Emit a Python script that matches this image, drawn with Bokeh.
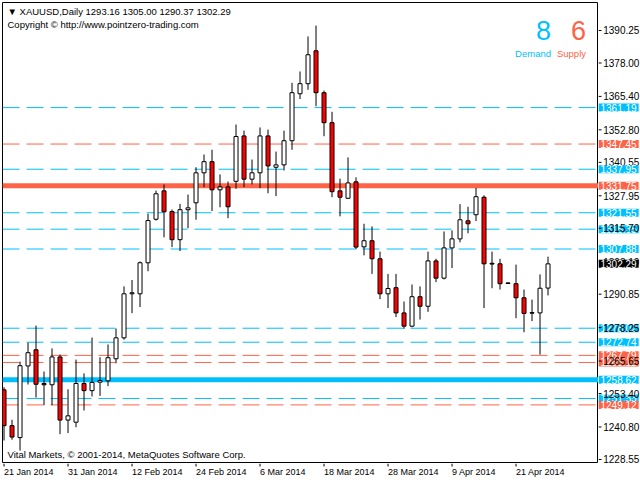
from bokeh.plotting import figure
from bokeh.layouts import row, column
from bokeh.models import Span, Label, Range1d, ColumnDataSource
from bokeh.core.properties import value
from bokeh.embed import file_html
from bokeh.resources import INLINE

# ---------------- data ----------------
header = "\u25BC XAUUSD,Daily  1293.16 1305.00 1290.37 1302.29"
copyright_text = "Copyright \u00A9 http://www.pointzero-trading.com"
footer_text = "Vital Markets, \u00A9 2001-2014, MetaQuotes Software Corp."

opens = [1254.8, 1241.3, 1236.8, 1263.8, 1269.9, 1257.2, 1256.7, 1267.2, 1243.4, 1242.6,
         1257.2, 1254.5, 1257.7, 1258.2, 1266.5, 1274.4, 1291.0, 1291.0, 1302.7, 1319.1,
         1329.8, 1322.0, 1311.4, 1322.7, 1325.3, 1336.6, 1340.8, 1330.2, 1331.3, 1333.4,
         1350.5, 1334.2, 1336.6, 1350.5, 1338.7, 1339.6, 1348.7, 1366.4, 1370.2, 1382.6,
         1366.8, 1355.5, 1329.8, 1327.0, 1333.2, 1308.7, 1311.0, 1304.2, 1291.0, 1293.3,
         1283.8, 1278.8, 1289.9, 1286.3, 1303.4, 1296.9, 1308.3, 1311.7, 1318.5, 1320.8,
         1327.4, 1302.5, 1302.3, 1295.1, 1294.8, 1289.5, 1283.9, 1283.8, 1293.16]
highs = [1255.8, 1243.5, 1265.4, 1272.6, 1279.0, 1261.7, 1270.4, 1268.1, 1255.0, 1266.2,
         1261.0, 1274.5, 1267.1, 1271.9, 1277.9, 1293.8, 1296.2, 1303.2, 1321.2, 1329.9,
         1332.2, 1322.8, 1324.9, 1328.4, 1338.7, 1343.5, 1345.3, 1336.0, 1333.3, 1354.8,
         1352.5, 1341.6, 1353.7, 1352.9, 1344.6, 1352.5, 1370.5, 1374.8, 1388.0, 1392.1,
         1367.6, 1359.6, 1334.4, 1342.4, 1334.9, 1317.4, 1316.4, 1306.9, 1298.5, 1298.5,
         1288.1, 1294.5, 1293.8, 1306.9, 1304.2, 1314.5, 1314.9, 1324.8, 1323.8, 1330.9,
         1328.1, 1306.9, 1304.2, 1295.3, 1302.0, 1292.6, 1288.8, 1298.3, 1305.00]
lows = [1235.7, 1236.0, 1231.9, 1256.8, 1251.9, 1249.0, 1249.0, 1238.1, 1238.5, 1240.7,
        1247.0, 1252.3, 1252.5, 1256.2, 1264.8, 1273.7, 1283.7, 1286.0, 1299.5, 1318.6,
        1312.3, 1308.6, 1307.1, 1315.7, 1318.9, 1331.2, 1322.2, 1323.6, 1319.5, 1330.6,
        1331.2, 1332.2, 1330.8, 1328.9, 1327.8, 1337.5, 1345.3, 1364.4, 1367.9, 1361.7,
        1350.4, 1327.4, 1320.2, 1326.8, 1307.8, 1305.5, 1298.5, 1289.0, 1285.6, 1282.2,
        1277.8, 1278.4, 1281.3, 1284.2, 1295.4, 1296.4, 1300.7, 1310.4, 1313.8, 1318.4,
        1285.6, 1293.1, 1292.6, 1294.7, 1281.8, 1276.5, 1280.7, 1268.1, 1290.37]
closes = [1241.3, 1237.0, 1263.9, 1268.8, 1256.9, 1256.7, 1267.2, 1243.4, 1245.0, 1257.2,
          1254.5, 1257.6, 1258.3, 1266.9, 1274.4, 1291.0, 1291.4, 1302.7, 1318.6, 1328.7,
          1321.9, 1311.4, 1322.7, 1323.4, 1336.6, 1340.8, 1330.2, 1331.3, 1323.8, 1350.3,
          1334.2, 1336.6, 1350.5, 1339.2, 1339.6, 1348.7, 1366.8, 1370.2, 1381.1, 1366.8,
          1355.5, 1329.5, 1327.4, 1332.8, 1308.6, 1311.0, 1304.2, 1291.0, 1293.0, 1283.8,
          1278.8, 1289.9, 1286.3, 1303.4, 1296.9, 1308.3, 1311.7, 1318.9, 1317.4, 1327.6,
          1302.3, 1302.2, 1294.8, 1294.9, 1289.5, 1283.6, 1283.7, 1293.1, 1302.29]

date_ticks = [0, 8, 16, 24, 32, 40, 48, 56, 64]
date_labels = ["21 Jan 2014", "31 Jan 2014", "12 Feb 2014", "24 Feb 2014", "6 Mar 2014",
               "18 Mar 2014", "28 Mar 2014", "9 Apr 2014", "21 Apr 2014"]
price_ticks = [1390.25, 1378.00, 1365.40, 1352.80, 1340.55, 1327.95, 1315.70, 1303.10,
               1290.85, 1278.25, 1265.65, 1253.40, 1240.80, 1228.55]

demand_levels = [1361.19, 1337.95, 1321.55, 1315.35, 1307.88, 1278.02, 1272.74, 1258.62, 1251.55]
supply_levels = [1347.45, 1331.75, 1265.12, 1267.79, 1249.12]
strong_demand = 1258.62
strong_supply = 1331.75
demand_count = "8"
supply_count = "6"
last_price = 1302.29

# ---------------- style ----------------
BLUE = "#00BFFF"
RED = "#FF6347"
FONT = "Liberation Sans"
X0, X1 = -0.19, 74.31
Y0, Y1 = 1227.41, 1400.8
CHART_W, SCALE_W = 598, 42
CHART_H, DATE_H = 463, 17
TOTAL_H = CHART_H + DATE_H
FRAME_H = CHART_H - 3                 # 2 px top border, 1 px bottom border
SCALE_FRAME_H = TOTAL_H - 2           # price scale runs down to the page bottom
Y0_SCALE = Y1 - (Y1 - Y0) * SCALE_FRAME_H / FRAME_H   # same price-per-pixel as the chart

n = len(opens)
src = ColumnDataSource(dict(
    x=list(range(n)),
    high=highs,
    low=lows,
    top=[max(o, c) for o, c in zip(opens, closes)],
    bottom=[min(o, c) for o, c in zip(opens, closes)],
    color=["#FFFFFF" if c >= o else "#FF0000" for o, c in zip(opens, closes)],
))

def bare(fig):
    fig.background_fill_color = "white"
    fig.border_fill_color = "white"
    fig.xgrid.visible = False
    fig.ygrid.visible = False

# ---------------- main chart ----------------
p = figure(width=CHART_W, height=CHART_H, output_backend="svg", toolbar_location=None,
           x_range=Range1d(X0, X1), y_range=Range1d(Y0, Y1),
           x_axis_location=None, y_axis_location=None,
           min_border_left=2, min_border_top=2, min_border_right=0, min_border_bottom=1)
bare(p)
p.outline_line_color = "black"
p.outline_line_width = 1

for v in demand_levels:
    if v == strong_demand:
        p.add_layout(Span(location=v, dimension="width", line_color=BLUE, line_width=5, level="underlay"))
    else:
        p.add_layout(Span(location=v, dimension="width", line_color=BLUE, line_width=1,
                          line_dash="17 7", level="underlay"))
for v in supply_levels:
    if v == strong_supply:
        p.add_layout(Span(location=v, dimension="width", line_color=RED, line_width=5, level="underlay"))
    else:
        p.add_layout(Span(location=v, dimension="width", line_color=RED, line_width=1,
                          line_dash="17 7", level="underlay"))

p.segment(x0="x", y0="high", x1="x", y1="low", source=src, line_color="black", line_width=1)
p.vbar(x="x", width=0.5, top="top", bottom="bottom", source=src,
       fill_color="color", line_color="black", line_width=1)

p.add_layout(Label(x=X0, y=Y1, x_offset=5, y_offset=-9, text=header, text_font=FONT,
                   text_font_size="9.5px", text_color="black", text_baseline="middle"))
p.add_layout(Label(x=X0, y=Y1, x_offset=5, y_offset=-22, text=copyright_text, text_font=FONT,
                   text_font_size="9.5px", text_color="black", text_baseline="middle"))
p.add_layout(Label(x=X0, y=Y0, x_offset=5, y_offset=8, text=footer_text, text_font=FONT,
                   text_font_size="9.5px", text_color="black", text_baseline="middle"))
p.add_layout(Label(x=X1, y=Y1, x_offset=-47.5, y_offset=-28, text=demand_count, text_font=FONT,
                   text_font_size="27px", text_color=BLUE, text_align="right", text_baseline="middle"))
p.add_layout(Label(x=X1, y=Y1, x_offset=-12.5, y_offset=-28, text=supply_count, text_font=FONT,
                   text_font_size="27px", text_color=RED, text_align="right", text_baseline="middle"))
p.add_layout(Label(x=X1, y=Y1, x_offset=-47.5, y_offset=-51, text="Demand", text_font=FONT,
                   text_font_size="9.5px", text_color=BLUE, text_align="right", text_baseline="middle"))
p.add_layout(Label(x=X1, y=Y1, x_offset=-12.5, y_offset=-51, text="Supply", text_font=FONT,
                   text_font_size="9.5px", text_color=RED, text_align="right", text_baseline="middle"))

# ---------------- date scale (shares the chart's x scale) ----------------
r = figure(width=CHART_W, height=DATE_H, output_backend="svg", toolbar_location=None,
           x_range=p.x_range, y_range=Range1d(DATE_H, 0),
           x_axis_location=None, y_axis_location=None,
           min_border_left=2, min_border_right=0, min_border_top=0, min_border_bottom=0)
bare(r)
r.outline_line_color = None
r.segment(x0=date_ticks, y0=0, x1=date_ticks, y1=3, line_color="black", line_width=1)
r.text(x=date_ticks, y=8, text=date_labels, text_font=value(FONT), text_font_size=value("9px"),
       text_color="black", text_align="left", text_baseline="middle")

# ---------------- price scale (same price-per-pixel as the chart) ----------------
q = figure(width=SCALE_W, height=TOTAL_H, output_backend="svg", toolbar_location=None,
           x_range=Range1d(0, SCALE_W), y_range=Range1d(Y0_SCALE, Y1),
           x_axis_location=None, y_axis_location=None,
           min_border_left=0, min_border_right=0, min_border_top=2, min_border_bottom=0)
bare(q)
q.outline_line_color = None

def box(v, col, level):
    q.add_layout(Label(x=0, y=v, x_offset=0, text="%.2f" % v, text_font=FONT,
                       text_font_size="10px", text_color="white", text_align="left",
                       text_baseline="middle", background_fill_color=col, padding=(2, 0),
                       level=level))

for v in demand_levels:
    box(v, BLUE, "annotation" if v == 1337.95 else "underlay")
for v in supply_levels:
    box(v, RED, "underlay")
box(last_price, "black", "annotation")

q.segment(x0=0, y0=price_ticks, x1=3, y1=price_ticks, line_color="black", line_width=1)
q.text(x=4.7, y=price_ticks, text=["%.2f" % t for t in price_ticks],
       text_font=value(FONT), text_font_size=value("10px"), text_color="black",
       text_align="left", text_baseline="middle")

layout = row(column(p, r, spacing=0), q, spacing=0)
open("out.html", "w").write(file_html(layout, INLINE))
